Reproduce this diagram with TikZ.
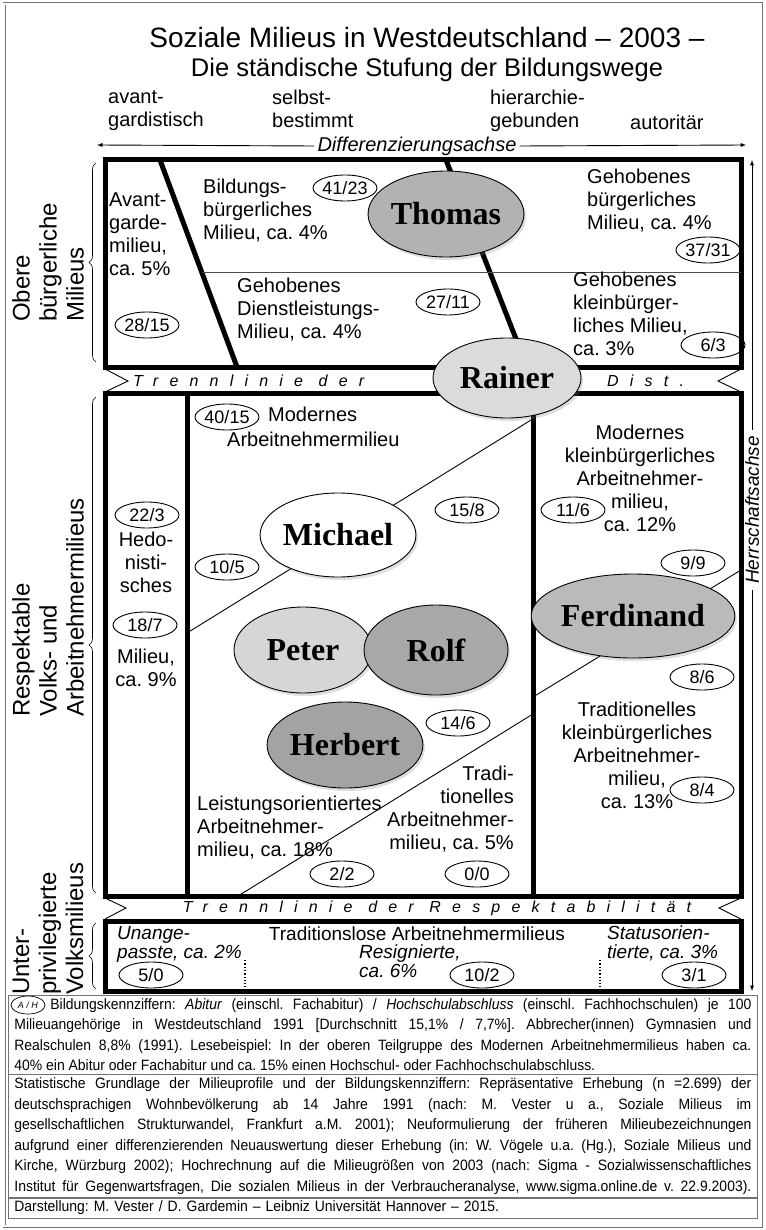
\documentclass[tikz,border=0pt]{standalone}
\usepackage{fontspec}
\setmainfont{Liberation Sans}
\newfontfamily\namefont{Liberation Serif}
\newfontfamily\narrowfont[FakeStretch=0.93]{Liberation Sans}
\newfontfamily\sperrfont[LetterSpace=70]{Liberation Sans}
\usepackage{tikz}
\usetikzlibrary{arrows,decorations.pathreplacing}
\usetikzlibrary{shapes.geometric,shadows}
\usetikzlibrary{positioning}

\definecolor{thomasgrau}{gray}{0.70}
\definecolor{rainergrau}{gray}{0.86}
\definecolor{petergrau}{gray}{0.84}
\definecolor{rolfgrau}{gray}{0.66}
\definecolor{herbertgrau}{gray}{0.64}
\definecolor{ferdinandgrau}{gray}{0.73}
\definecolor{rahmengrau}{gray}{0.45}

\begin{document}
\frenchspacing
\begin{tikzpicture}[x=1pt,y=-1pt,
		milieu/.style={font=\fontsize{20}{23}\selectfont,inner sep=0pt,align=left,execute at begin node=\strut,execute at end node=\strut},
		unten/.style={milieu,font=\itshape\fontsize{19}{19}\selectfont},
		kennz/.style={ellipse,draw,line width=0.9pt,minimum width=64pt,minimum height=26pt,inner sep=0pt,font=\fontsize{18}{18}\selectfont},
		figur/.style={ellipse,draw,line width=0.9pt,inner sep=0pt,font=\namefont\bfseries\fontsize{32}{32}\selectfont,drop shadow={opacity=0.25,shadow xshift=2pt,shadow yshift=-3pt}},
		balken/.style={line width=5pt},
		duenn/.style={line width=0.9pt},
		trenn/.style={font=\sperrfont\itshape\fontsize{16}{16}\selectfont,inner sep=0pt},
		klammer/.style={decorate,decoration={brace,amplitude=7pt},line width=0.6pt},
		gruppe/.style={rotate=90,anchor=west,align=left,inner sep=0pt,font=\fontsize{24}{27}\selectfont},
		fussnote/.style={draw=rahmengrau,line width=0.8pt,anchor=north west,inner xsep=6pt,inner ysep=3pt,text width=737pt,align=justify,font=\narrowfont\fontsize{15}{20.5}\selectfont\frenchspacing}]

			\useasboundingbox (0,0) rectangle (765,1230);
			\draw[rahmengrau,double,double distance=2pt,line width=0.5pt] (4,4) rectangle (761,1226);

			% Titel
			\node[font=\fontsize{28}{28}\selectfont] (titel) at (427,37) {Soziale Milieus in Westdeutschland – 2003 –};
			\node[font=\fontsize{25.5}{25.5}\selectfont] (untertitel) at (427,70) {Die ständische Stufung der Bildungswege};

			% Differenzierungsachse
			\node[milieu,anchor=west] (avant) at (108,112) {avant-\\gardistisch};
			\node[milieu,anchor=west] (selbst) at (272,112) {selbst-\\bestimmt};
			\node[milieu,anchor=west] (hierarchie) at (490,112) {hierarchie-\\gebunden};
			\node[milieu,anchor=west] (autoritaer) at (630,125) {autoritär};
			\node[font=\itshape\fontsize{20}{20}\selectfont,inner xsep=3pt,inner ysep=0pt] (diff) at (417,146) {Differenzierungsachse};
			\coordinate (diffl) at (97,145);
			\coordinate (diffr) at (746,145);
			\draw[duenn,-latex] (diff.west) -- (diffl);
			\draw[duenn,-latex] (diff.east) -- (diffr);

			% Herrschaftsachse
			\node[font=\itshape\fontsize{19}{19}\selectfont,rotate=90,inner sep=6pt] (herr) at (752,510) {Herrschaftsachse};
			\coordinate (herro) at (752,160);
			\coordinate (herru) at (752,991);
			\draw[duenn,-latex] (herr.east) -- (herro);
			\draw[duenn,-latex] (herr.west) -- (herru);

			% obere Milieus
			\draw[balken] (105,160) rectangle (741,367);
			\draw[balken] (160,160) -- (237,367);
			\draw[balken] (446,160) -- (527,367);
			\draw[duenn,gray!60!black] (202,272) -- (741,272);

			% Trennlinie der Distinktion
			\draw[duenn] (105,369) -- (128,381) -- (105,392);
			\draw[duenn] (741,369) -- (718,381) -- (741,392);
			\node[trenn,anchor=west] (distl) at (133,381) {Trennlinie der};
			\node[trenn,anchor=west] (distr) at (607,381) {Dist.};

			% respektable Milieus
			\draw[balken] (105,393) rectangle (741,896);
			\draw[balken] (187,393) -- (187,896);
			\draw[balken] (533,393) -- (533,896);
			\draw[duenn] (187,633) -- (531,420);
			\draw[duenn] (533,697) -- (741,570);
			\draw[duenn] (238,896) -- (533,714);

			% Trennlinie der Respektabilitaet
			\draw[duenn] (105,898) -- (126,908) -- (105,919);
			\draw[duenn] (741,898) -- (719,908) -- (741,919);
			\node[trenn] (respekt) at (437,908) {Trennlinie der Respektabilität};

			% unterprivilegierte Milieus
			\draw[balken] (105,921) rectangle (741,991);
			\draw[dotted,line width=1.3pt] (245,960) -- (245,987);
			\draw[dotted,line width=1.3pt] (600,960) -- (600,987);

			% Figuren
			\node[figur,fill=thomasgrau,minimum width=140pt,minimum height=86pt] (thomas) at (446,214) {Thomas};
			\node[figur,fill=rainergrau,minimum width=148pt,minimum height=80pt] (rainer) at (507,378) {Rainer};
			\node[figur,fill=white,minimum width=144pt,minimum height=84pt] (michael) at (338,535) {Michael};
			\node[figur,fill=petergrau,minimum width=138pt,minimum height=86pt] (peter) at (303,650) {Peter};
			\node[figur,fill=rolfgrau,minimum width=144pt,minimum height=90pt] (rolf) at (436,650) {Rolf};
			\node[figur,fill=herbertgrau,minimum width=134pt,minimum height=86pt] (herbert) at (345,745) {Herbert};
			\node[figur,fill=ferdinandgrau,minimum width=144pt,minimum height=84pt] (ferdinand) at (633,616) {Ferdinand};

			% Milieus oben
			\node[milieu,anchor=west] (avantgarde) at (109,238) {Avant-\\garde-\\milieu,\\ca. 5\%};
			\node[kennz] (k2815) at (147,325) {28/15};
			\node[milieu,anchor=west] (bildung) at (203,213) {Bildungs-\\bürgerliches\\Milieu, ca. 4\%};
			\node[kennz] (k4123) at (345,188) {41/23};
			\node[milieu,anchor=west] (dienst) at (237,312) {Gehobenes\\Dienstleistungs-\\Milieu, ca. 4\%};
			\node[kennz] (k2711) at (448,302) {27/11};
			\node[milieu,anchor=west] (gehoben) at (587,203) {Gehobenes\\bürgerliches\\Milieu, ca. 4\%};
			\node[kennz] (k3731) at (708,250) {37/31};
			\node[milieu,anchor=west] (kleinbuerg) at (573,317) {Gehobenes\\kleinbürger-\\liches Milieu,\\ca. 3\%};
			\node[kennz] (k63) at (713,345) {6/3};

			% Milieus Mitte
			\node[kennz] (k4015) at (227,417) {40/15};
			\node[milieu,anchor=west] (modern) at (268,417) {Modernes};
			\node[milieu,anchor=west] (modern2) at (227,442) {Arbeitnehmermilieu};
			\node[kennz] (k223) at (147,515) {22/3};
			\node[milieu,align=center] (hedo) at (146,566) {Hedo-\\nisti-\\sches};
			\node[kennz] (k187) at (145,625) {18/7};
			\node[milieu,align=center] (hedo2) at (146,671) {Milieu,\\ca. 9\%};
			\node[kennz] (k105) at (227,567) {10/5};
			\node[kennz] (k158) at (467,510) {15/8};
			\node[milieu,align=center] (modklein) at (640,482) {Modernes\\kleinbürgerliches\\Arbeitnehmer-\\milieu,\\ca. 12\%};
			\node[kennz] (k116) at (573,510) {11/6};
			\node[kennz] (k99) at (693,563) {9/9};
			\node[kennz] (k86) at (702,677) {8/6};
			\node[milieu,align=center] (tradklein) at (637,759) {Traditionelles\\kleinbürgerliches\\Arbeitnehmer-\\milieu,\\ca. 13\%};
			\node[kennz] (k84) at (702,790) {8/4};
			\node[kennz] (k146) at (458,723) {14/6};
			\node[milieu,align=right,anchor=east] (tradarb) at (514,811) {Tradi-\\tionelles\\Arbeitnehmer-\\milieu, ca. 5\%};
			\node[milieu,anchor=west] (leistung) at (197,830) {Leistungsorientiertes\\Arbeitnehmer-\\milieu, ca. 18\%};
			\node[kennz] (k22) at (342,874) {2/2};
			\node[kennz] (k00) at (477,874) {0/0};

			% Milieus unten
			\node[unten,anchor=west] (unange) at (117,945) {Unange-\\passte, ca. 2\%};
			\node[milieu,font=\fontsize{19}{19}\selectfont] (traditionslos) at (417,936) {Traditionslose Arbeitnehmermilieus};
			\node[unten,anchor=west] (resig) at (359,964) {Resignierte,\\ca. 6\%};
			\node[unten,anchor=west] (status) at (607,945) {Statusorien-\\tierte, ca. 3\%};
			\node[kennz] (k50) at (151,975) {5/0};
			\node[kennz] (k102) at (482,975) {10/2};
			\node[kennz] (k31) at (694,975) {3/1};

			% Gruppen links
			\draw[klammer] (96,362) -- (96,163);
			\draw[klammer] (96,893) -- (96,397);
			\draw[klammer] (96,989) -- (96,923);
			\node[gruppe] (obere) at (48,322) {Obere\\bürgerliche\\Milieus};
			\node[gruppe] (respektabel) at (48,717) {Respektable\\Volks- und\\Arbeitnehmermilieus};
			\node[gruppe] (unterpriv) at (48,995) {Unter-\\privilegierte\\Volksmilieus};

			% Fussnoten
			\node[fussnote] (fn1) at (8,995) {\hspace*{36pt}Bildungskennziffern: \textit{Abitur} (einschl. Fachabitur) / \textit{Hochschulabschluss} (einschl. Fachhochschulen) je 100\linebreak Milieuangehörige in Westdeutschland 1991 [Durchschnitt 15,1\% / 7,7\%]. Abbrecher(innen) Gymnasien und\linebreak Realschulen 8,8\% (1991). Lesebeispiel: In der oberen Teilgruppe des Modernen Arbeitnehmermilieus haben ca.\linebreak 40\% ein Abitur oder Fachabitur und ca. 15\% einen Hochschul- oder Fachhochschulabschluss.};
			\node[ellipse,draw,line width=0.7pt,minimum width=34pt,minimum height=18pt,inner sep=0pt,font=\itshape\fontsize{9}{9}\selectfont] (ah) at (28,1005) {A / H};
			\node[fussnote,anchor=north west] (fn2) at (fn1.south west) {Statistische Grundlage der Milieuprofile und der Bildungskennziffern: Repräsentative Erhebung (n =2.699) der\linebreak deutschsprachigen Wohnbevölkerung ab 14 Jahre 1991 (nach: M. Vester u a., Soziale Milieus im\linebreak gesellschaftlichen Strukturwandel, Frankfurt a.M. 2001); Neuformulierung der früheren Milieubezeichnungen\linebreak aufgrund einer differenzierenden Neuauswertung dieser Erhebung (in: W. Vögele u.a. (Hg.), Soziale Milieus und\linebreak Kirche, Würzburg 2002); Hochrechnung auf die Milieugrößen von 2003 (nach: Sigma - Sozialwissenschaftliches\linebreak Institut für Gegenwartsfragen, Die sozialen Milieus in der Verbraucheranalyse, www.sigma.online.de v. 22.9.2003).\parfillskip=0pt\par};
			\node[fussnote,anchor=north west,align=left] (fn3) at (fn2.south west) {Darstellung: M. Vester / D. Gardemin – Leibniz Universität Hannover – 2015.};
		\end{tikzpicture}
\end{document}
